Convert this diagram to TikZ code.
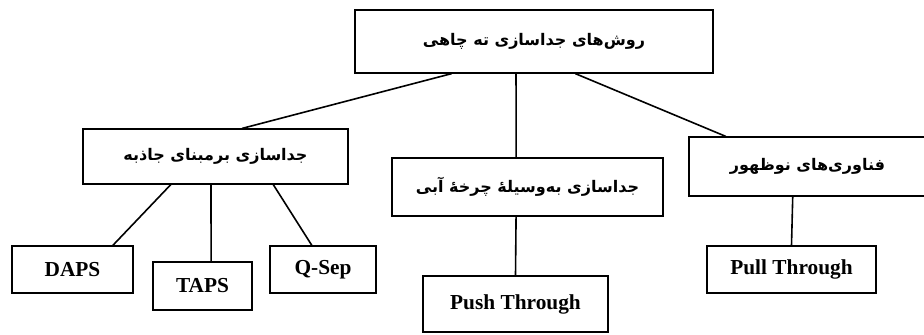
\documentclass[tikz,border=0pt]{standalone}
\usepackage{fontspec}
\setmainfont{Liberation Serif}
\newfontfamily\fa[Script=Arabic]{DejaVu Sans}
\TeXXeTstate=1
\usetikzlibrary{calc}
\tikzset{
  box/.style={draw, line width=0.9pt, inner sep=0pt, align=center},
  fatext/.style={font=\fa\bfseries\fontsize{12}{14}\selectfont},
  entext/.style={font=\bfseries\fontsize{16}{19}\selectfont},
  conn/.style={line width=1.2pt}
}
\begin{document}
\begin{tikzpicture}[x=0.75pt,y=-0.75pt]
\clip (0,0) rectangle (924,335);
\fill[white] (0,0) rectangle (924,335);
% boxes
\node[box, fatext, minimum width=268.5pt, minimum height=47.25pt] (top) at (534,41.5) {\beginR روش^^^^200cهای جداسازی ته چاهی\endR};
\node[box, fatext, minimum width=198.75pt, minimum height=41.25pt] (lm) at (215.5,156.5) {\beginR جداسازی برمبنای جاذبه\endR};
\node[box, fatext, minimum width=203.25pt, minimum height=43.5pt] (mm) at (527.5,187) {\beginR جداسازی به^^^^200cوسیله^^^^0654 چرخه^^^^0654 آبی\endR};
\node[box, fatext, minimum width=177.75pt, minimum height=44.25pt] (rm) at (807.5,166.5) {\beginR فناوری^^^^200cهای نوظهور\endR};
\node[box, entext, minimum width=90.75pt, minimum height=35.25pt] (daps) at (72.5,269.5) {DAPS};
\node[box, entext, minimum width=74.25pt, minimum height=36pt] (taps) at (202.5,286) {TAPS};
\node[box, entext, minimum width=79.5pt, minimum height=35.25pt] (qsep) at (323,269.5) {Q-Sep};
\node[box, entext, minimum width=138.75pt, minimum height=42pt] (push) at (515.5,304) {Push Through};
\node[box, entext, minimum width=126.75pt, minimum height=35.25pt] (pull) at (791.5,269.5) {Pull Through};
% connectors
\draw[conn] ($(top.south west)!0.271!(top.south east)$) -- ($(lm.north west)!0.6!(lm.north east)$);
\draw[conn] ($(top.south west)!0.45!(top.south east)$) -- ($(mm.north west)!0.458!(mm.north east)$);
\draw[conn] ($(top.south west)!0.615!(top.south east)$) -- ($(rm.north west)!0.157!(rm.north east)$);
\draw[conn] ($(lm.south west)!0.332!(lm.south east)$) -- ($(daps.north west)!0.83!(daps.north east)$);
\draw[conn] ($(lm.south west)!0.483!(lm.south east)$) -- ($(taps.north west)!0.586!(taps.north east)$);
\draw[conn] ($(lm.south west)!0.717!(lm.south east)$) -- ($(qsep.north west)!0.396!(qsep.north east)$);
\draw[conn] ($(mm.south west)!0.458!(mm.south east)$) -- (push.north);
\draw[conn] ($(rm.south west)!0.438!(rm.south east)$) -- (pull.north);
\end{tikzpicture}
\end{document}
